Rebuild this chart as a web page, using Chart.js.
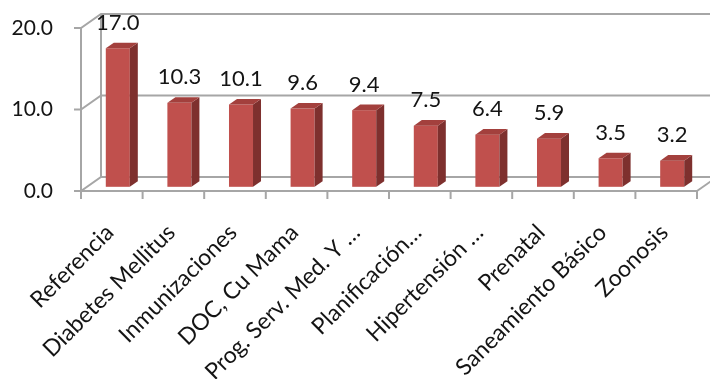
<!DOCTYPE html>
<html>
<head>
<meta charset="utf-8">
<script src="https://cdn.jsdelivr.net/npm/chart.js@4.4.1/dist/chart.umd.min.js"></script>
<style>
  html, body { margin: 0; padding: 0; background: #fff; }
  #wrap { width: 710px; height: 379px; }
</style>
</head>
<body>
<div id="wrap"><canvas id="mychart"></canvas></div>
<script>
var categories = ["Referencia", "Diabetes Mellitus", "Inmunizaciones", "DOC, Cu Mama",
    "Prog. Serv. Med. Y …", "Planificación…", "Hipertensión …", "Prenatal",
    "Saneamiento Básico", "Zoonosis"];
var values = [17.0, 10.3, 10.1, 9.6, 9.4, 7.5, 6.4, 5.9, 3.5, 3.2];
var yTicks = [0, 10, 20];

// fake 3d: how far the back wall sits from the front plane, and where the bars sit in between
var depth = { dx: 20, dy: 14, front: 0.3, back: 0.7 };
var gridColor = '#a6a6a6';
var textColor = '#141414';

function line(ctx, x1, y1, x2, y2) {
    ctx.beginPath();
    ctx.moveTo(x1, y1);
    ctx.lineTo(x2, y2);
    ctx.stroke();
}

var frame3d = {
    id: 'frame3d',
    beforeDatasetsDraw(chart) {
        const ctx = chart.ctx, a = chart.chartArea, ys = chart.scales.y;
        const dx = depth.dx, dy = depth.dy;
        ctx.save();
        ctx.strokeStyle = gridColor;
        ctx.lineWidth = 2;
        // gridlines: tick, left wall diagonal, back wall
        yTicks.forEach(v => {
            const y = ys.getPixelForValue(v);
            ctx.beginPath();
            ctx.moveTo(a.left - 7, y);
            ctx.lineTo(a.left, y);
            ctx.lineTo(a.left + dx, y - dy);
            ctx.lineTo(a.right + dx, y - dy);
            ctx.stroke();
        });
        line(ctx, a.left + dx, a.top - dy, a.left + dx, a.bottom - dy);
        // front axes
        line(ctx, a.left, a.top, a.left, a.bottom);
        line(ctx, a.left, a.bottom, a.right, a.bottom);
        line(ctx, a.right, a.bottom, a.right + dx, a.bottom - dy);
        const n = categories.length;
        for (let i = 0; i <= n; i++) {
            const x = a.left + i * (a.right - a.left) / n;
            line(ctx, x, a.bottom, x, a.bottom + 8);
        }
        ctx.restore();
    },
    afterDatasetsDraw(chart) {
        const ctx = chart.ctx;
        const meta = chart.getDatasetMeta(0);
        const fx = depth.dx * depth.front, fy = depth.dy * depth.front;
        const bx = depth.dx * depth.back, by = depth.dy * depth.back;
        ctx.save();
        meta.data.forEach((el, i) => {
            const l = el.x - el.width / 2, r = el.x + el.width / 2;
            const t = el.y, b = el.base;
            // front
            ctx.fillStyle = '#c0504d';
            ctx.fillRect(l + fx, t - fy, r - l, b - t);
            // side
            ctx.fillStyle = '#7e302e';
            ctx.beginPath();
            ctx.moveTo(r + fx, t - fy);
            ctx.lineTo(r + bx, t - by);
            ctx.lineTo(r + bx, b - by);
            ctx.lineTo(r + fx, b - fy);
            ctx.closePath();
            ctx.fill();
            // top
            ctx.fillStyle = '#a3403d';
            ctx.beginPath();
            ctx.moveTo(l + fx, t - fy);
            ctx.lineTo(r + fx, t - fy);
            ctx.lineTo(r + bx, t - by);
            ctx.lineTo(l + bx, t - by);
            ctx.closePath();
            ctx.fill();
            // value label
            ctx.fillStyle = textColor;
            ctx.font = '22px Lato';
            ctx.textAlign = 'center';
            ctx.textBaseline = 'middle';
            ctx.fillText(values[i].toFixed(1), el.x + fx, t - by - 20);
        });
        ctx.restore();
    }
};

function noPad(s) {
    s.paddingLeft = 0; s.paddingRight = 0; s.paddingTop = 0; s.paddingBottom = 0;
}

var myChart = new Chart(document.getElementById('mychart'), {
    type: 'bar',
    data: {
        labels: categories,
        datasets: [{
            data: values,
            backgroundColor: 'transparent',
            borderWidth: 0,
            categoryPercentage: 1,
            barPercentage: 0.39
        }]
    },
    options: {
        responsive: true,
        maintainAspectRatio: false,
        animation: false,
        events: [],
        layout: { padding: { top: 28, right: 13, left: 0, bottom: 0 } },
        plugins: { legend: { display: false }, tooltip: { enabled: false } },
        scales: {
            x: {
                grid: { display: false, drawTicks: false },
                border: { display: false },
                ticks: {
                    color: textColor,
                    font: { family: 'Lato', size: 23 },
                    minRotation: 45,
                    maxRotation: 45,
                    padding: 28,
                    labelOffset: -2,
                    autoSkip: false
                },
                afterFit: s => { s.height = 188; noPad(s); }
            },
            y: {
                min: 0,
                max: 20,
                grid: { display: false, drawTicks: false },
                border: { display: false },
                afterBuildTicks: s => { s.ticks = yTicks.map(v => ({ value: v })); },
                ticks: {
                    color: textColor,
                    font: { family: 'Lato', size: 21 },
                    padding: 28,
                    callback: v => v.toFixed(1)
                },
                afterFit: s => { s.width = 81; noPad(s); }
            }
        }
    },
    plugins: [frame3d]
});
</script>
</body>
</html>
